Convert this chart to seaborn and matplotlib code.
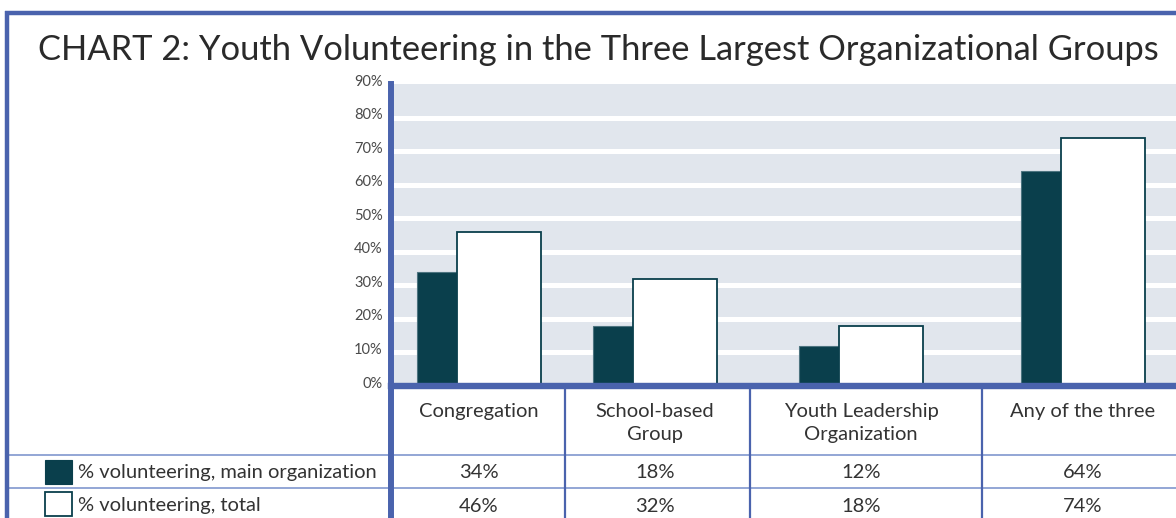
import matplotlib

matplotlib.use("Agg")
import matplotlib.pyplot as plt
import matplotlib.transforms as mtransforms
import numpy as np
import pandas as pd
import seaborn as sns
from matplotlib.lines import Line2D
from matplotlib.patches import Rectangle

# ── data ───────────────────────────────────────────────────────
categories = ["Congregation", "School-based\nGroup", "Youth Leadership\nOrganization", "Any of the three"]
series_names = ["% volunteering, main organization", "% volunteering, total"]
main_org = [34, 18, 12, 64]
total = [46, 32, 18, 74]
y_ticks = [0, 10, 20, 30, 40, 50, 60, 70, 80, 90]

# ── layout / style ─────────────────────────────────────────────
W, H = 1176, 518
BLUE = "#4a63ad"
LIGHT_BLUE = "#8a9fd2"
DARK = "#0a3f4c"
GRAY_BG = "#e1e6ed"
TEXT = "#333333"
FONT = "Lato"
TABLE_FS = 14.5

AX_LEFT, AX_TOP, AX_BOTTOM = 391, 84, 386      # pixels
GROUP_X = [88, 264, 470, 692]                   # group centres, px from axis
COL_EDGES = [174, 359, 591]                     # table column borders
DARK_OFF, WHITE_OFF = -42, 20
DARK_W, WHITE_W = 40, 84

sns.set_theme(style="white")
plt.rcParams["font.family"] = [FONT, "DejaVu Sans"]

fig = plt.figure(figsize=(W / 100, H / 100), dpi=100)


def fx(px):
    return px / W


def fy(px):
    return 1 - px / H


# ── bar axes ───────────────────────────────────────────────────
ax = fig.add_axes([fx(AX_LEFT), fy(AX_BOTTOM), fx(W - AX_LEFT), (AX_BOTTOM - AX_TOP) / H])
ax.set_facecolor(GRAY_BG)

native = np.diff(GROUP_X).min()
df_main = pd.DataFrame({"x": [g + DARK_OFF for g in GROUP_X], "value": main_org})
df_total = pd.DataFrame({"x": [g + WHITE_OFF for g in GROUP_X], "value": total})

sns.barplot(data=df_main, x="x", y="value", native_scale=True, errorbar=None,
            width=DARK_W / native, color=DARK, saturation=1,
            edgecolor="#4d7480", linewidth=0.8, ax=ax, zorder=3)
sns.barplot(data=df_total, x="x", y="value", native_scale=True, errorbar=None,
            width=WHITE_W / native, color="white", saturation=1,
            edgecolor=DARK, linewidth=1.3, ax=ax, zorder=3)

ax.set_xlim(0, W - AX_LEFT)
ax.set_ylim(0, 90)
ax.set_xticks([])
ax.set_yticks(y_ticks)
ax.set_yticklabels([f"{t}%" for t in y_ticks], fontsize=10.5, color="#4a4a4a")
ax.tick_params(axis="y", length=0, pad=6)
lift = mtransforms.ScaledTranslation(0, 4 / 100, fig.dpi_scale_trans)
for lbl in ax.get_yticklabels():
    lbl.set_transform(lbl.get_transform() + lift)
ax.set_xlabel("")
ax.set_ylabel("")
ax.yaxis.grid(True, color="white", linewidth=3.6)
ax.get_ygridlines()[-1].set_visible(False)
ax.set_axisbelow(True)
for side in ["top", "right"]:
    ax.spines[side].set_visible(False)
ax.spines["left"].set_color(BLUE)
ax.spines["left"].set_linewidth(4.3)
ax.spines["bottom"].set_color(BLUE)
ax.spines["bottom"].set_linewidth(4.6)
ax.spines["left"].set_zorder(5)
ax.spines["bottom"].set_zorder(5)

# ── table axes (same x scale as the bars) ──────────────────────
tab = fig.add_axes([fx(8), 0, fx(W - 8), fy(AX_BOTTOM)])
tab.set_xlim(8 - AX_LEFT, W - AX_LEFT)
tab.set_ylim(H - AX_BOTTOM, 0)
tab.axis("off")

ROW1, ROW2 = 455 - AX_BOTTOM, 488 - AX_BOTTOM
for yy in [ROW1, ROW2]:
    tab.plot([8 - AX_LEFT, W - AX_LEFT], [yy, yy], color=LIGHT_BLUE, lw=1.3, solid_capstyle="butt")
for xx in COL_EDGES:
    tab.plot([xx, xx], [0, H - AX_BOTTOM], color=BLUE, lw=1.6, solid_capstyle="butt")
tab.plot([0, 0], [0, H - AX_BOTTOM], color=BLUE, lw=4.3, solid_capstyle="butt", zorder=4)

for gx, cat, v1, v2 in zip(GROUP_X, categories, main_org, total):
    tab.text(gx, 17, cat, ha="center", va="top", fontsize=TABLE_FS, color=TEXT, linespacing=1.4)
    tab.text(gx, (ROW1 + ROW2) / 2 + 1, f"{v1}%", ha="center", va="center", fontsize=TABLE_FS, color=TEXT)
    tab.text(gx, (ROW2 + H - AX_BOTTOM) / 2 + 3, f"{v2}%", ha="center", va="center", fontsize=TABLE_FS, color=TEXT)

# legend swatches and row labels
sw_x = 45 - AX_LEFT
tab.add_patch(Rectangle((sw_x, ROW1 + 5), 27, 24, facecolor=DARK, edgecolor=DARK, lw=0.8))
tab.add_patch(Rectangle((sw_x, ROW2 + 4), 27, 24, facecolor="white", edgecolor=DARK, lw=1.3))
tab.text(78 - AX_LEFT, (ROW1 + ROW2) / 2 + 1, series_names[0], ha="left", va="center", fontsize=TABLE_FS, color=TEXT)
tab.text(78 - AX_LEFT, (ROW2 + H - AX_BOTTOM) / 2 + 3, series_names[1], ha="left", va="center", fontsize=TABLE_FS, color=TEXT)

# ── outer frame + title ────────────────────────────────────────
fig.add_artist(Line2D([fx(5), 1.0], [fy(13), fy(13)], color=BLUE, lw=3.2, solid_capstyle="butt"))
fig.add_artist(Line2D([fx(7), fx(7)], [fy(11), 0], color=BLUE, lw=3.2, solid_capstyle="butt"))
fig.text(fx(38), fy(50), "CHART 2: Youth Volunteering in the Three Largest Organizational Groups",
         ha="left", va="center", fontsize=24.8, color="#2a2a2a")

fig.savefig("out.png", dpi=100)
